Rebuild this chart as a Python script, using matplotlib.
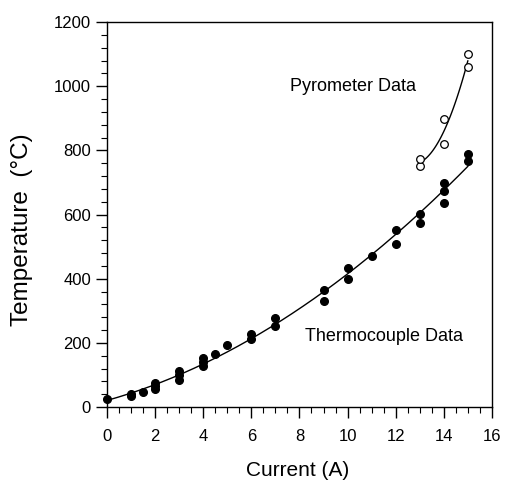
import numpy as np
import matplotlib
matplotlib.use("Agg")
import matplotlib.pyplot as plt
from matplotlib.ticker import MultipleLocator

plt.rcParams['font.family'] = ['Liberation Sans', 'DejaVu Sans']

# thermocouple readings (filled circles)
tc_current = [0, 1, 1, 1.5, 2, 2, 2, 3, 3, 3, 4, 4, 4, 4.5, 5, 6, 6, 7, 7,
              9, 9, 10, 10, 11, 12, 12, 13, 13, 14, 14, 14, 15, 15]
tc_temp = [24, 35, 40, 47, 55, 65, 75, 85, 101, 112, 127, 140, 153, 166, 192,
           211, 228, 252, 278, 332, 366, 400, 432, 471, 509, 551, 573, 601,
           636, 672, 699, 766, 789]

# pyrometer readings (open circles)
py_current = [13, 13, 14, 14, 15, 15]
py_temp = [750, 774, 819, 899, 1059, 1099]

x_ticks = [0, 2, 4, 6, 8, 10, 12, 14, 16]
y_ticks = [0, 200, 400, 600, 800, 1000, 1200]

fig = plt.figure(figsize=(5.05, 4.8), dpi=100)
ax = fig.add_axes([0.212, 0.152, 0.762, 0.802])

# quadratic fits through each data set
tc_fit = np.polyfit(tc_current, tc_temp, 2)
xs = np.linspace(0, 15, 200)
ax.plot(xs, np.polyval(tc_fit, xs), color='black', lw=1.0)

py_fit = np.polyfit(py_current, py_temp, 2)
xp = np.linspace(13, 15, 100)
ax.plot(xp, np.polyval(py_fit, xp), color='black', lw=1.0)

ax.plot(tc_current, tc_temp, 'o', color='black', ms=5.5, clip_on=False)
ax.plot(py_current, py_temp, 'o', mfc='white', mec='black', mew=0.9, ms=5.5)

ax.text(7.6, 1000, 'Pyrometer Data', fontsize=13, va='center')
ax.text(8.23, 219, 'Thermocouple Data', fontsize=13, va='center')

ax.set_xlim(0, 16)
ax.set_ylim(0, 1200)
ax.set_xticks(x_ticks)
ax.set_yticks(y_ticks)
ax.xaxis.set_minor_locator(MultipleLocator(0.5))
ax.yaxis.set_minor_locator(MultipleLocator(40))
ax.tick_params(which='major', direction='out', length=8, width=1, labelsize=12)
ax.tick_params(which='minor', direction='out', length=4, width=0.8)
ax.tick_params(axis='x', pad=8)

ax.set_xlabel('Current (A)', fontsize=15, va='center')
ax.xaxis.set_label_coords(0.494, -0.166)
ax.set_ylabel('Temperature  (°C)', fontsize=17.5, va='center')
ax.yaxis.set_label_coords(-0.22, 0.46)

for s in ax.spines.values():
    s.set_linewidth(1.0)

fig.savefig('out.png', dpi=100)
